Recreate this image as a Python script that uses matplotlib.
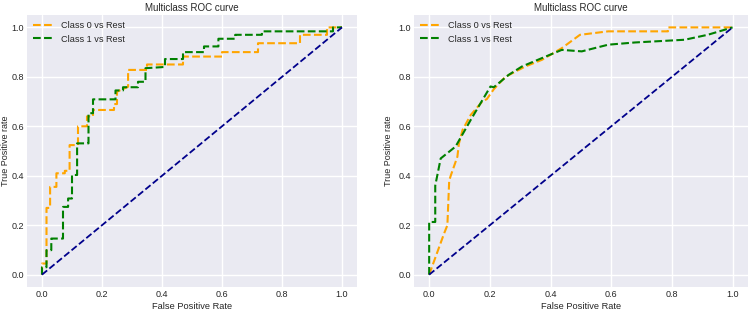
import matplotlib
matplotlib.use("Agg")
import matplotlib.pyplot as plt

plt.style.use("seaborn-v0_8")
plt.rcParams["font.family"] = ["Liberation Sans", "DejaVu Sans"]

# Left panel (step ROC curves)
l_c0_fpr = [0, 0, 0.015, 0.015, 0.027, 0.027, 0.048, 0.048, 0.076, 0.076, 0.092, 0.092, 0.12, 0.12,
            0.15, 0.15, 0.17, 0.17, 0.24, 0.24, 0.25, 0.25, 0.287, 0.287, 0.35, 0.35, 0.47, 0.47,
            0.6, 0.6, 0.72, 0.72, 0.86, 0.86, 0.95, 0.95, 1.0]
l_c0_tpr = [0, 0.045, 0.045, 0.27, 0.27, 0.355, 0.355, 0.41, 0.41, 0.42, 0.42, 0.524, 0.524, 0.6,
            0.6, 0.64, 0.64, 0.666, 0.666, 0.69, 0.69, 0.74, 0.76, 0.828, 0.828, 0.85, 0.85, 0.882,
            0.882, 0.9, 0.9, 0.936, 0.936, 0.97, 0.97, 1.0, 1.0]
l_c1_fpr = [0, 0, 0.015, 0.015, 0.031, 0.031, 0.07, 0.07, 0.087, 0.087, 0.1, 0.1, 0.117, 0.117,
            0.155, 0.155, 0.17, 0.17, 0.245, 0.245, 0.27, 0.27, 0.32, 0.32, 0.345, 0.345, 0.41, 0.41,
            0.47, 0.47, 0.54, 0.54, 0.588, 0.588, 0.644, 0.644, 0.733, 0.733, 0.97, 0.97, 1.0]
l_c1_tpr = [0, 0.03, 0.03, 0.099, 0.099, 0.146, 0.146, 0.274, 0.274, 0.308, 0.308, 0.403, 0.403, 0.531,
            0.531, 0.653, 0.653, 0.709, 0.709, 0.745, 0.745, 0.758, 0.758, 0.78, 0.78, 0.835, 0.84, 0.872,
            0.872, 0.9, 0.9, 0.923, 0.923, 0.954, 0.954, 0.97, 0.97, 0.984, 0.984, 1.0, 1.0]

# Right panel (smoother ROC curves)
r_c0_fpr = [0, 0.049, 0.06, 0.066, 0.071, 0.093, 0.098, 0.11, 0.137, 0.175, 0.19, 0.213, 0.251, 0.317,
            0.372, 0.437, 0.497, 0.59, 0.787, 0.787, 1.0]
r_c0_tpr = [0, 0.166, 0.2, 0.38, 0.4, 0.477, 0.53, 0.585, 0.646, 0.7, 0.71, 0.75, 0.8, 0.842,
            0.869, 0.916, 0.97, 0.984, 0.984, 1.0, 1.0]
r_c1_fpr = [0, 0, 0.02, 0.02, 0.038, 0.087, 0.137, 0.202, 0.213, 0.262, 0.306, 0.372, 0.437, 0.503,
            0.59, 0.678, 0.842, 0.918, 1.0]
r_c1_tpr = [0, 0.213, 0.213, 0.36, 0.47, 0.518, 0.626, 0.761, 0.758, 0.808, 0.842, 0.876, 0.909, 0.903,
            0.93, 0.939, 0.95, 0.97, 1.0]

diag = [0, 1]
title = "Multiclass ROC curve"
labels = ["Class 0 vs Rest", "Class 1 vs Rest"]

fig = plt.figure(figsize=(7.5, 3.13), dpi=100)
ax1 = fig.add_axes([0.036, 0.083, 0.44, 0.869])
ax2 = fig.add_axes([0.552, 0.083, 0.445, 0.869])

panels = [(ax1, l_c0_fpr, l_c0_tpr, l_c1_fpr, l_c1_tpr, -0.05),
          (ax2, r_c0_fpr, r_c0_tpr, r_c1_fpr, r_c1_tpr, -0.062)]
for ax, f0, t0, f1, t1, ylx in panels:
    ax.plot(f0, t0, linestyle="--", color="orange", lw=1.5, label=labels[0])
    ax.plot(f1, t1, linestyle="--", color="green", lw=1.5, label=labels[1])
    ax.plot(diag, diag, linestyle="--", color="darkblue", lw=1.3)
    ax.set_title(title, fontsize=7, pad=3)
    ax.set_xlabel("False Positive Rate", fontsize=6.7, labelpad=2)
    ax.set_ylabel("True Positive rate", fontsize=6.5)
    ax.yaxis.set_label_coords(ylx, 0.5)
    ax.tick_params(labelsize=6.5, pad=2)
    ax.set_xticks([0, 0.2, 0.4, 0.6, 0.8, 1.0])
    ax.set_yticks([0, 0.2, 0.4, 0.6, 0.8, 1.0])
    ax.legend(loc="upper left", fontsize=6.6, frameon=False, handlelength=2.0,
              handletextpad=1.0, borderaxespad=0.3, labelspacing=0.45)

fig.savefig("out.png", dpi=100)
